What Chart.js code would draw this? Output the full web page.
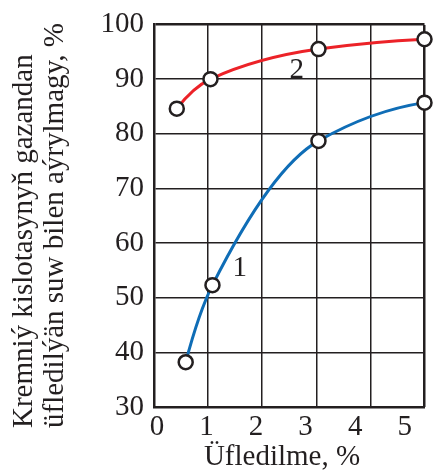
<!DOCTYPE html>
<html>
<head>
<meta charset="utf-8">
<script src="https://cdn.jsdelivr.net/npm/chart.js@4/dist/chart.umd.min.js"></script>
<style>
  html, body { margin: 0; padding: 0; background: #fff; }
  #wrap { width: 434px; height: 472px; }
</style>
</head>
<body>
<div id="wrap"><canvas id="c" width="434" height="472"></canvas></div>
<script>
// Blowing rate, % (x) vs. share of silicic acid removed with the blown water, % (y)
const curve2X = [0.4, 1.08, 3.26, 5.4];
const curve2Y = [84.6, 90, 95.5, 97.3];
const curve1X = [0.58, 1.12, 3.26, 5.4];
const curve1Y = [38.2, 52.3, 78.7, 85.7];

const xTickValues = [0, 1, 2, 3, 4, 5];
const yTickValues = [30, 40, 50, 60, 70, 80, 90, 100];
const gridXValues = [0, 1, 2, 3, 4, 5];

const xTitle = 'Üfledilme, %';
const yTitleLines = ['Kremniý kislotasynyň gazandan', 'üfledilýän suw bilen aýrylmagy, %'];

// curve numbers, placed in data units
const curveLabels = [
  { text: '1', x: 1.67, y: 55.4 },
  { text: '2', x: 2.82, y: 91.6 }
];

const INK = '#231f20';
const FONT = '"Liberation Serif", "Times New Roman", serif';

const toPoints = (xs, ys) => xs.map((x, i) => ({ x, y: ys[i] }));

// Shape-preserving smoothing: weighted-harmonic interior slopes (PCHIP)
// and parabolic end slopes, written into the line's bezier control points.
const smoothCurve = {
  id: 'smoothCurve',
  beforeDatasetDraw(chart, args) {
    const meta = args.meta;
    const line = meta.dataset;
    if (!line) return;
    line.updateControlPoints(chart.chartArea, 'x');
    const p = meta.data;
    const n = p.length;
    if (n < 3) return;
    const h = [], d = [];
    for (let i = 0; i < n - 1; i++) {
      h.push(p[i + 1].x - p[i].x);
      d.push((p[i + 1].y - p[i].y) / h[i]);
    }
    const m = new Array(n).fill(0);
    for (let i = 1; i < n - 1; i++) {
      if (d[i - 1] * d[i] <= 0) { m[i] = 0; continue; }
      const w1 = 2 * h[i] + h[i - 1], w2 = h[i] + 2 * h[i - 1];
      m[i] = (w1 + w2) / (w1 / d[i - 1] + w2 / d[i]);
    }
    m[0] = 2 * d[0] - m[1];
    if (m[0] * d[0] < 0) m[0] = 0;
    m[n - 1] = 2 * d[n - 2] - m[n - 2];
    if (m[n - 1] * d[n - 2] < 0) m[n - 1] = 0;
    for (let i = 0; i < n; i++) {
      if (i > 0) {
        const k = h[i - 1] / 3;
        p[i].cp1x = p[i].x - k;
        p[i].cp1y = p[i].y - k * m[i];
      }
      if (i < n - 1) {
        const k = h[i] / 3;
        p[i].cp2x = p[i].x + k;
        p[i].cp2y = p[i].y + k * m[i];
      }
    }
  }
};

const textPlugin = {
  id: 'textPlugin',
  afterDraw(chart) {
    const ctx = chart.ctx;
    const xs = chart.scales.x, ys = chart.scales.y;
    ctx.save();
    ctx.fillStyle = INK;
    ctx.font = '29px ' + FONT;

    // curve numbers
    ctx.textAlign = 'center';
    ctx.textBaseline = 'middle';
    curveLabels.forEach(l => {
      ctx.fillText(l.text, xs.getPixelForValue(l.x), ys.getPixelForValue(l.y));
    });

    // x axis title
    ctx.textBaseline = 'alphabetic';
    ctx.fillText(xTitle, 282, 465);

    // y axis title, two rotated lines starting from the bottom
    ctx.textAlign = 'left';
    const baselines = [31.5, 63];
    yTitleLines.forEach((line, i) => {
      ctx.save();
      ctx.translate(baselines[i], 428);
      ctx.rotate(-Math.PI / 2);
      ctx.fillText(line, 0, 0);
      ctx.restore();
    });
    ctx.restore();
  }
};

const pointStyle = {
  pointRadius: 7,
  pointHoverRadius: 7,
  pointBorderWidth: 2.5,
  pointBackgroundColor: '#ffffff',
  pointBorderColor: INK,
  borderWidth: 3,
  tension: 0.4,
  clip: false,
  xAxisID: 'x',
  yAxisID: 'y'
};

new Chart(document.getElementById('c'), {
  type: 'line',
  data: {
    datasets: [
      Object.assign({ label: '2', data: toPoints(curve2X, curve2Y), borderColor: '#ec2228' }, pointStyle),
      Object.assign({ label: '1', data: toPoints(curve1X, curve1Y), borderColor: '#0f6db6' }, pointStyle)
    ]
  },
  options: {
    responsive: false,
    animation: false,
    events: [],
    layout: { padding: { top: 16, right: 9, left: 0, bottom: 0 } },
    plugins: { legend: { display: false }, tooltip: { enabled: false } },
    scales: {
      x: {
        type: 'linear',
        position: 'bottom',
        min: -0.06,
        max: 5.4,
        afterBuildTicks: s => { s.ticks = xTickValues.map(v => ({ value: v })); },
        afterFit: s => { s.height = 65; },
        grid: { display: false, drawTicks: false },
        border: { display: true, color: INK, width: 2.5 },
        ticks: {
          color: INK,
          padding: 6,
          maxRotation: 0,
          autoSkip: false,
          font: { family: FONT, size: 29, lineHeight: 1.0 },
          callback: v => String(v)
        }
      },
      xGrid: {
        type: 'linear',
        position: 'top',
        min: 0,
        max: 5,
        afterBuildTicks: s => { s.ticks = gridXValues.map(v => ({ value: v })); },
        afterFit: s => { s.height = 0; },
        grid: {
          drawTicks: false,
          color: INK,
          lineWidth: c => (c.tick && c.tick.value === 5 ? 2.5 : 1.5)
        },
        border: { display: false },
        ticks: { display: false }
      },
      y: {
        type: 'linear',
        position: 'left',
        min: 30,
        max: 100,
        afterBuildTicks: s => { s.ticks = yTickValues.map(v => ({ value: v })); },
        afterFit: s => { s.width = 154; },
        grid: {
          drawTicks: false,
          color: INK,
          lineWidth: c => (c.tick && c.tick.value === 100 ? 2.5 : 1.5)
        },
        border: { display: true, color: INK, width: 2.5 },
        ticks: {
          color: INK,
          padding: 10,
          font: { family: FONT, size: 29, lineHeight: 1.0 },
          callback: v => String(v)
        }
      }
    }
  },
  plugins: [smoothCurve, textPlugin]
});
</script>
</body>
</html>
